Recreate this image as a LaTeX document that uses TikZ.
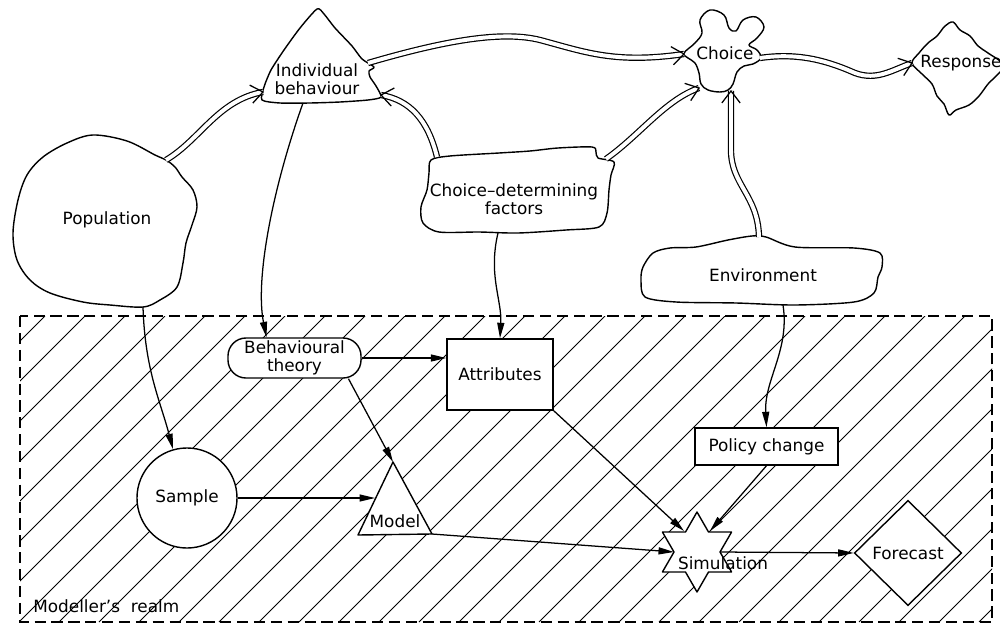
\documentclass[tikz,border=0pt]{standalone}
\usepackage{fontspec}
\setmainfont{DejaVu Sans}
\usetikzlibrary{arrows.meta,shapes.geometric,calc,decorations.markings}

\begin{document}
\begin{tikzpicture}[x=0.025cm,y=-0.025cm,
  font=\fontsize{12}{12.8}\selectfont,
  outline/.style={line width=1pt, line join=round, fill=white},
  boxed/.style={draw, line width=1pt, fill=white, inner sep=0pt, align=center},
  link/.style={line width=0.9pt, -{Triangle[length=11pt,width=5pt]}},
  tube/.style={line width=0.85pt, double=white, double distance=2.8pt,
    postaction={decorate},
    decoration={markings, mark=at position 1 with {
      \draw[line width=0.9pt, line join=miter, double=none]
        (-8.5pt,6.5pt) -- (0pt,0pt) -- (-8.5pt,-6.5pt);}}},
  hatch/.style={line width=0.6pt},
  realm/.style={line width=1pt, dash pattern=on 8pt off 4pt},
  lbl/.style={align=center, inner sep=0pt},
]
\useasboundingbox (0,0) rectangle (1000,624);

% ---------- hatched modeller's realm ----------
\begin{scope}
  \clip (20,316) rectangle (992,622);
  \foreach \c in {361,401,...,1601} \draw[hatch] (\c-316,316) -- (\c-622,622);
\end{scope}
\draw[realm] (20,316) rectangle (992,622);
\node[lbl, anchor=west] (realmlbl) at (33,606) {Modeller's\ \ realm};

% ---------- real-world blobs ----------
% population
\draw[outline] plot[smooth cycle, tension=0.55] coordinates {
  (155,155) (127,141) (93,135) (67,143) (43,157) (27,175) (18,200) (13,233)
  (17,260) (30,280) (50,293) (83,302) (110,305) (143,307) (160,300) (177,287)
  (183,263) (186,243) (192,225) (197,207) (193,190) (182,177) (175,167) (166,160)};
\node[lbl] (pop) at (107,220) {Population};
\coordinate (popout) at (166,160);
\coordinate (popfoot) at (143,307);

% individual behaviour
\draw[outline] plot[smooth cycle, tension=0.4] coordinates {
  (317,9) (300,28) (284,50) (271,70) (264,87) (262,100) (280,103) (310,103)
  (340,102) (368,100) (381,97) (376,86) (370,77) (369,71) (374,67) (362,59)
  (352,46) (335,28) (324,14)};
\node[lbl] (ib) at (317,79) {Individual\\behaviour};
\coordinate (ibout) at (368,63);
\coordinate (ibw) at (263,92);
\coordinate (ibse) at (381,95);
\coordinate (ibfoot) at (303,103);

% choice
\draw[outline] plot[smooth cycle, tension=0.6] coordinates {
  (684,53) (695,43) (702,33) (700,20) (710,10) (724,15) (729,28) (736,31)
  (743,20) (756,17) (764,27) (757,38) (749,45) (757,50) (761,58) (753,64)
  (744,66) (737,72) (733,84) (728,90) (720,92) (708,90) (701,84) (699,73)
  (695,63) (688,58)};
\node[lbl] (choice) at (725,53) {Choice};
\coordinate (chw) at (684,54);
\coordinate (chout) at (760,58);
\coordinate (chsw) at (699,88);
\coordinate (chs) at (731,91);

% response
\draw[outline] plot[smooth cycle, tension=0.55] coordinates {
  (912,63) (919,53) (928,43) (937,36) (945,26) (953,22) (960,30) (970,36)
  (978,46) (988,53) (1004,65) (996,76) (988,84) (979,96) (969,105) (956,110)
  (949,115) (944,104) (937,96) (932,84) (922,74)};
\node[lbl] (resp) at (961,63) {Response};
\coordinate (respw) at (912,63);

% choice-determining factors
\draw[outline] plot[smooth cycle, tension=0.5] coordinates {
  (431,160) (450,156) (499,153) (530,151) (558,148) (592,147) (596,152)
  (598,158) (614,162) (611,175) (609,190) (607,213) (599,227) (566,230)
  (518,233) (479,232) (439,232) (423,223) (421,207) (427,190) (429,173)};
\node[lbl] (cdf) at (514,199) {Choice–determining\\factors};
\coordinate (cdfnw) at (437,157);
\coordinate (cdfne) at (606,159);
\coordinate (cdffoot) at (498,233);

% environment
\draw[outline] plot[smooth cycle, tension=0.5] coordinates {
  (653,253) (670,248) (696,247) (728,240) (752,236) (766,237) (795,247)
  (854,248) (880,253) (882,267) (878,277) (874,293) (854,302) (795,305)
  (736,303) (676,302) (645,297) (641,280) (643,267)};
\node[lbl] (env) at (763,275) {Environment};
\coordinate (envn) at (759,237);
\coordinate (envfoot) at (783,305);

% ---------- flows between real-world elements ----------
\draw[tube] (popout) .. controls (200,140) and (218,100) .. (ibw);
\draw[tube] (ibout) .. controls (440,42) and (500,30) .. (540,40)
  .. controls (585,52) and (615,64) .. (chw);
\draw[tube] (chout) .. controls (800,52) and (830,62) .. (855,73)
  .. controls (877,81) and (892,70) .. (respw);
\draw[tube] (cdfnw) .. controls (428,120) and (410,100) .. (ibse);
\draw[tube] (cdfne) .. controls (640,135) and (665,100) .. (chsw);
\draw[tube] (envn) .. controls (758,195) and (731,185) .. (731,150) -- (chs);

% ---------- modeller's realm elements ----------
\node[boxed, rounded corners=0.45cm, minimum width=3.325cm, minimum height=1cm]
  (bt) at (294.5,358) {Behavioural\\theory};
\node[boxed, minimum width=2.65cm, minimum height=1.775cm]
  (attr) at (500,374.5) {Attributes};
\node[boxed, minimum width=3.575cm, minimum height=0.925cm]
  (pol) at (766.5,446.5) {Policy change};
\node[boxed, circle, minimum size=2.5cm] (smp) at (187,498) {Sample};

% model triangle
\coordinate (mtop) at (393,462);
\coordinate (mleft) at (358,535);
\coordinate (mright) at (432,534);
\draw[outline] (mtop) -- (mright) -- (mleft) -- cycle;
\node[lbl] (model) at (395,521) {Model};
\coordinate (mwest) at (375,498);

% simulation star
\draw[outline] (697,512) -- (708.5,532) -- (731.6,532) -- (720,552) -- (731.6,572)
  -- (708.5,572) -- (697,592) -- (685.5,572) -- (662.4,572) -- (674,552)
  -- (662.4,532) -- (685.5,532) -- cycle;
\node[lbl] (sim) at (723,563) {Simulation};
\coordinate (simw) at (674,552);
\coordinate (simnw) at (684,531);
\coordinate (simne) at (710,531);
\coordinate (sime) at (720,552);

% forecast diamond
\node[boxed, diamond, aspect=1, minimum width=2.68cm, minimum height=2.63cm]
  (fc) at (908,553) {Forecast};

% ---------- modelling connectors ----------
\draw[link] (ibfoot) .. controls (272,190) and (255,280) .. ($(bt.north)+(-28,0)$);
\draw[link] (popfoot) .. controls (145,370) and (160,400) .. (smp.106);
\draw[link] (cdffoot) .. controls (488,275) and (502,300) .. (attr.north);
\draw[link] (envfoot) .. controls (790,350) and (764,380) .. (pol.north);
\draw[link] (bt.east) -- (bt.east -| attr.west);
\draw[link] (bt.-21) -- (mtop);
\draw[link] (smp.east) -- (mwest);
\draw[link] (mright) -- (simw);
\draw[link] (attr.south east) -- (simnw);
\draw[link] (pol.south) -- (simne);
\draw[link] (sime) -- (fc.west);
\end{tikzpicture}
\end{document}
